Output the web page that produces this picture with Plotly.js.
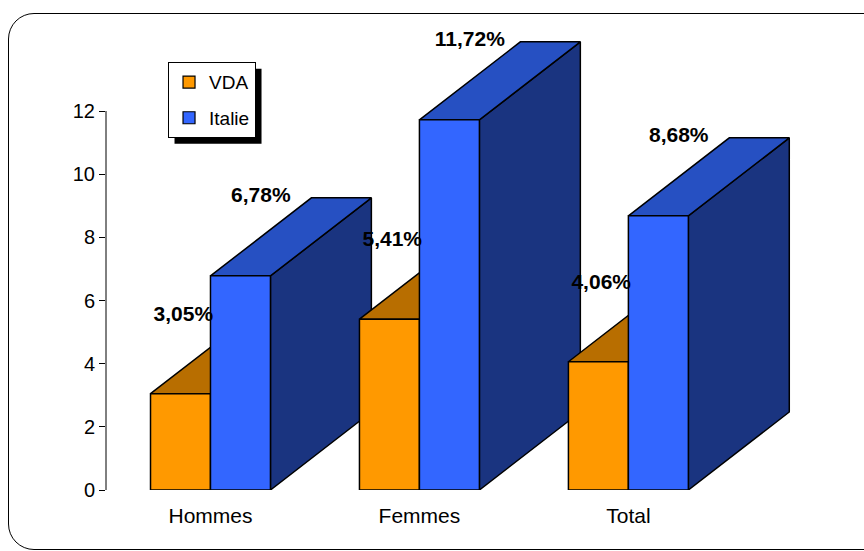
<!DOCTYPE html>
<html>
<head>
<meta charset="utf-8">
<script src="https://cdn.plot.ly/plotly-3.0.1.min.js"></script>
<style>
  html, body { margin: 0; padding: 0; width: 864px; height: 551px; overflow: hidden; background: #fff; }
  #frame { position: absolute; left: 8px; top: 13px; width: 920px; height: 537px;
           border: 1.5px solid #000; border-radius: 26px 0 0 26px; box-sizing: border-box; }
  #chart { position: absolute; left: 0; top: 0; width: 864px; height: 551px; }
</style>
</head>
<body>
<div id="frame"></div>
<div id="chart"></div>
<script>
// ---- data ----
const categories = ['Hommes', 'Femmes', 'Total'];
const vdaValues = [3.05, 5.41, 4.06];
const italieValues = [6.78, 11.72, 8.68];
const yTickValues = [0, 2, 4, 6, 8, 10, 12];
const seriesNames = ['VDA', 'Italie'];

// ---- style ----
const FONT = 'Arial, "Liberation Sans", sans-serif';
const BAR_W = 0.287;      // width of one front face (x units)
const DEPTH_X = 0.483;    // 3D depth offset in x units
const DEPTH_Y = 2.47;     // 3D depth offset in y units
const colors = {
  VDA:    { front: '#FF9900', top: '#B86E00', side: '#995C00' },
  Italie: { front: '#3366FF', top: '#2650C2', side: '#1A3480' }
};
const LINE = { color: '#000', width: 1.5 };

const fmt = v => v.toFixed(2).replace('.', ',') + '%';

function poly(xs, ys, fill) {
  return {
    type: 'scatter', mode: 'lines', x: xs.concat([xs[0]]), y: ys.concat([ys[0]]),
    fill: 'toself', fillcolor: fill, line: LINE, showlegend: false, hoverinfo: 'skip'
  };
}

function box(x0, v, c) {
  const x1 = x0 + BAR_W;
  return [
    poly([x1, x1 + DEPTH_X, x1 + DEPTH_X, x1], [0, DEPTH_Y, v + DEPTH_Y, v], c.side),
    poly([x0, x1, x1 + DEPTH_X, x0 + DEPTH_X], [v, v, v + DEPTH_Y, v + DEPTH_Y], c.top),
    poly([x0, x1, x1, x0], [0, 0, v, v], c.front)
  ];
}

const traces = [];
// legend entries
seriesNames.forEach((name) => {
  traces.push({
    type: 'bar', name: name, x: [null], y: [null], legendgroup: name,
    marker: { color: colors[name].front, line: { color: '#000', width: 1.2 } },
    hoverinfo: 'skip'
  });
});

categories.forEach((cat, i) => {
  traces.push(...box(i - BAR_W, vdaValues[i], colors.VDA));
  traces.push(...box(i, italieValues[i], colors.Italie));
});

// value labels
traces.push({
  type: 'scatter', mode: 'text', showlegend: false, hoverinfo: 'skip',
  x: categories.map((c, i) => i - 0.13),
  y: vdaValues.map(v => v + DEPTH_Y),
  text: vdaValues.map(fmt),
  textfont: { family: FONT, size: 21, color: '#000', weight: 'bold' },
  cliponaxis: false
});
traces.push({
  type: 'scatter', mode: 'text', showlegend: false, hoverinfo: 'skip',
  x: categories.map((c, i) => i + 0.241),
  y: italieValues.map(v => v + DEPTH_Y + 0.02),
  text: italieValues.map(fmt),
  textfont: { family: FONT, size: 21, color: '#000', weight: 'bold' },
  cliponaxis: false
});

const layout = {
  width: 864, height: 551,
  margin: { l: 106, r: 58, t: 30, b: 61, pad: 0 },
  paper_bgcolor: 'rgba(0,0,0,0)', plot_bgcolor: 'rgba(0,0,0,0)',
  font: { family: FONT, color: '#000' },
  xaxis: {
    range: [-0.5, 2.85], tickvals: [0, 1, 2], ticktext: categories,
    showgrid: false, zeroline: false, showline: false, ticks: '',
    tickfont: { family: FONT, size: 21, color: '#000' }, ticklabelstandoff: 11,
    fixedrange: true
  },
  yaxis: {
    range: [0, 14.565], tickvals: yTickValues, ticktext: yTickValues.map(String),
    showgrid: false, zeroline: false, showline: false,
    ticks: 'outside', ticklen: 6, tickwidth: 1, tickcolor: '#000',
    tickfont: { family: FONT, size: 20, color: '#000' }, fixedrange: true
  },
  shapes: [
    { type: 'line', xref: 'paper', yref: 'y', x0: 0, x1: 0, y0: 0, y1: 12,
      line: { color: '#000', width: 1 } }
  ],
  legend: {
    x: 0.0886, y: 0.93, xanchor: 'left', yanchor: 'top',
    bgcolor: '#fff', bordercolor: '#000', borderwidth: 1,
    font: { family: FONT, size: 19, color: '#000' },
    traceorder: 'grouped', tracegroupgap: 8, itemwidth: 30
  },
  barmode: 'overlay',
  showlegend: true
};

Plotly.newPlot('chart', traces, layout, { staticPlot: true, displayModeBar: false }).then(gd => {
  const bg = gd.querySelector('.legend .bg');
  if (!bg) return;
  const r = bg.getBoundingClientRect();
  const toPX = px => (px - 106) / 700;
  const toPY = py => (490 - py) / 460;
  const off = 6;
  const shapes = layout.shapes.concat([{
    type: 'rect', xref: 'paper', yref: 'paper', layer: 'above',
    x0: toPX(r.left + off), x1: toPX(r.right + off),
    y0: toPY(r.bottom + off), y1: toPY(r.top + off),
    fillcolor: '#000', line: { width: 0 }
  }]);
  return Plotly.relayout(gd, { shapes: shapes });
});
</script>
</body>
</html>
